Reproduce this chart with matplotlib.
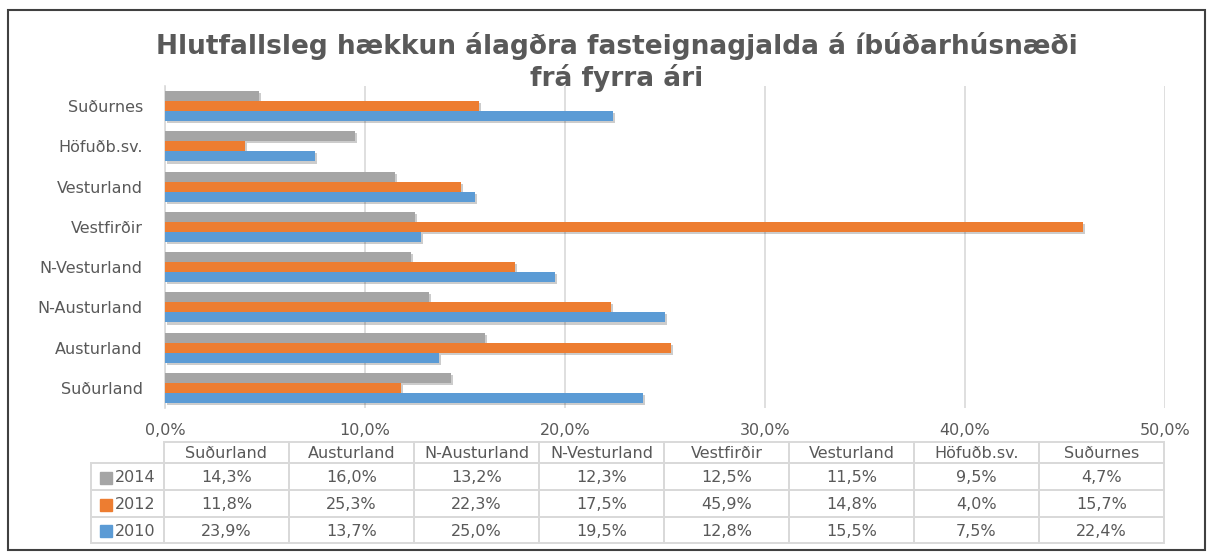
import matplotlib
matplotlib.use("Agg")
import matplotlib.pyplot as plt
import matplotlib.patheffects as pe
from matplotlib.patches import Rectangle
from matplotlib.ticker import FuncFormatter

plt.rcParams['font.family'] = ['DejaVu Sans']

# data (bottom to top on the chart, same order as the table columns)
regions = ['Suðurland', 'Austurland', 'N-Austurland', 'N-Vesturland',
           'Vestfirðir', 'Vesturland', 'Höfuðb.sv.', 'Suðurnes']
years = ['2014', '2012', '2010']
v2014 = [14.3, 16.0, 13.2, 12.3, 12.5, 11.5, 9.5, 4.7]
v2012 = [11.8, 25.3, 22.3, 17.5, 45.9, 14.8, 4.0, 15.7]
v2010 = [23.9, 13.7, 25.0, 19.5, 12.8, 15.5, 7.5, 22.4]
series = [v2014, v2012, v2010]
colors = ['#A5A5A5', '#ED7D31', '#5B9BD5']
title = 'Hlutfallsleg hækkun álagðra fasteignagjalda á íbúðarhúsnæði\nfrá fyrra ári'

W, H = 1214, 556
txt = '#595959'
grid = '#D9D9D9'

fig = plt.figure(figsize=(W / 100, H / 100), dpi=100)

# plot area in pixels
x0, x1, ytop, ybot = 165, 1165, 86, 408
ax = fig.add_axes([x0 / W, 1 - ybot / H, (x1 - x0) / W, (ybot - ytop) / H])
ax.set_facecolor('none')

bh = 0.25
offsets = [bh, 0, -bh]  # 2014 top, 2012 middle, 2010 bottom
shadow = [pe.SimplePatchShadow(offset=(1.5, -1.5), shadow_rgbFace='#000000', alpha=0.2), pe.Normal()]
for vals, c, off in zip(series, colors, offsets):
    ypos = [i + off for i in range(len(regions))]
    bars = ax.barh(ypos, vals, height=bh, color=c, zorder=3)
    for b in bars:
        b.set_path_effects(shadow)

ax.set_xlim(0, 50)
ax.set_ylim(-0.5, len(regions) - 0.5)
ax.set_xticks([0, 10, 20, 30, 40, 50])
ax.xaxis.set_major_formatter(FuncFormatter(lambda v, p: f'{v:.1f}%'.replace('.', ',')))
ax.set_yticks(range(len(regions)))
ax.set_yticklabels(regions)
ax.tick_params(axis='both', length=0, colors=txt, labelsize=11.5)
ax.tick_params(axis='y', pad=16)
ax.tick_params(axis='x', pad=11)
ax.grid(axis='x', color=grid, linewidth=1.2, zorder=0)
for s in ['top', 'right', 'bottom']:
    ax.spines[s].set_visible(False)
ax.spines['left'].set_color(grid)
ax.spines['left'].set_linewidth(1.2)

# overlay in pixel coordinates for title, table and frame
ov = fig.add_axes([0, 0, 1, 1], zorder=-1)
ov.set_xlim(0, W)
ov.set_ylim(H, 0)
ov.axis('off')

ov.add_patch(Rectangle((8, 10), 1197, 540, fill=False, edgecolor='#404040', linewidth=1.5))
ov.text(617, 62, title, ha='center', va='center', fontsize=19, fontweight='bold',
        color=txt, linespacing=1.15)

# data table
col_w = (x1 - x0) / len(regions)
tx0 = x0 - 1
lab_x = 91
rows_y = [442, 463, 490, 517, 543]
lw = 1.4
# header row
for j, r in enumerate(regions):
    ov.add_patch(Rectangle((tx0 + j * col_w, rows_y[0]), col_w, rows_y[1] - rows_y[0],
                           fill=False, edgecolor=grid, linewidth=lw))
    ov.text(tx0 + (j + 0.5) * col_w, (rows_y[0] + rows_y[1]) / 2 + 1, r, ha='center',
            va='center', fontsize=11.5, color=txt)
for i, (yr, vals, c) in enumerate(zip(years, series, colors)):
    ya, yb = rows_y[i + 1], rows_y[i + 2]
    ym = (ya + yb) / 2 + 1
    ov.add_patch(Rectangle((lab_x, ya), tx0 - lab_x, yb - ya, fill=False, edgecolor=grid, linewidth=lw))
    ov.add_patch(Rectangle((100, ym - 6), 12, 12, color=c))
    ov.text(115, ym, yr, ha='left', va='center', fontsize=11.5, color=txt)
    for j, v in enumerate(vals):
        ov.add_patch(Rectangle((tx0 + j * col_w, ya), col_w, yb - ya, fill=False,
                               edgecolor=grid, linewidth=lw))
        ov.text(tx0 + (j + 0.5) * col_w, ym, f'{v:.1f}%'.replace('.', ','), ha='center',
                va='center', fontsize=11.5, color=txt)

fig.savefig('out.png', dpi=100)
